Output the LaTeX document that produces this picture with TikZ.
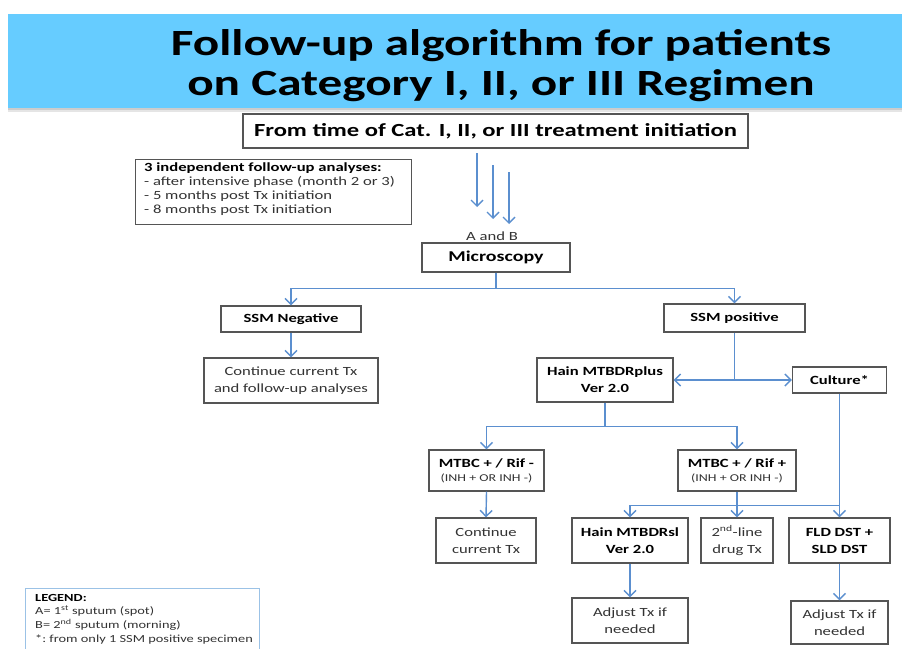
\documentclass[tikz,border=0pt]{standalone}
\usepackage{fontspec}
\setmainfont{Carlito}[FakeStretch=1.33]
\usetikzlibrary{arrows.meta,calc}
\definecolor{banner}{RGB}{102,204,255}
\definecolor{link}{RGB}{91,143,207}
\definecolor{frame}{RGB}{85,85,85}
\definecolor{ink}{RGB}{51,51,51}
\definecolor{legendline}{RGB}{155,194,230}
\tikzset{
  box/.style={draw=frame, line width=1.3pt, fill=white, inner sep=0pt, align=center,
    text=ink, font=\fontsize{12.5}{17}\selectfont},
  hd/.style={text=black, font=\fontsize{12.5}{17}\selectfont\bfseries},
  conn/.style={draw=link, line width=1.4pt},
  arr/.style={conn, -{Straight Barb[length=6pt,width=12pt,line width=1.4pt]}},
}
\begin{document}
\begin{tikzpicture}[x=1pt,y=-1pt]
\clip (0,0) rectangle (902,648);
\fill[white] (0,0) rectangle (902,648);

% title banner with soft shadow
\fill[black!10] (8,108) rectangle (902,112);
\fill[black!20] (8,108) rectangle (902,110);
\node[fill=banner, minimum width=894pt, minimum height=94pt, inner sep=0pt, anchor=north west]
  (title) at (8,14) {};
\node[align=center, font=\fontsize{37}{40}\selectfont\bfseries, text=black] (titletext) at (501,66)
  {Follow-up algorithm for patients\\on Category I, II, or III Regimen};

% start of treatment
\node[box, minimum width=505pt, minimum height=34pt, font=\fontsize{18.5}{20}\selectfont\bfseries, text=black]
  (start) at (495.5,131) {From time of Cat. I, II, or III treatment initiation};

% schedule of analyses
\node[box, minimum width=276pt, minimum height=65pt, anchor=north west] (sched) at (135,159) {};
\node[anchor=north west, align=left, inner sep=0pt, text=ink,
  font=\fontsize{12.5}{13.7}\selectfont] (schedtext) at (144,163)
  {\textbf{\color{black}3 independent follow-up analyses:}\\
   - after intensive phase (month 2 or 3)\\
   - 5 months post Tx initiation\\
   - 8 months post Tx initiation};

% three sampling arrows
\coordinate (s1) at (477,153); \coordinate (t1) at (477,207);
\coordinate (s2) at (493,165); \coordinate (t2) at (493,219);
\coordinate (s3) at (509,172); \coordinate (t3) at (509,224);
\draw[arr] (s1) -- (t1);
\draw[arr] (s2) -- (t2);
\draw[arr] (s3) -- (t3);
\node[text=ink, font=\fontsize{12.5}{14}\selectfont] (ab) at (492,236) {A and B};

% first level
\node[box, minimum width=148pt, minimum height=29pt, text=black, font=\fontsize{15}{18}\selectfont\bfseries]
  (micro) at (496,257.5) {Microscopy};
\node[box, hd, minimum width=140pt, minimum height=26pt] (ssmneg) at (291,319) {SSM Negative};
\node[box, hd, minimum width=141pt, minimum height=28pt] (ssmpos) at (734.5,318) {SSM positive};
\node[box, minimum width=174pt, minimum height=45pt] (cont1) at (291,380.5)
  {Continue current Tx\\and follow-up analyses};

% positive branch
\node[box, hd, minimum width=136pt, minimum height=44pt] (hainplus) at (605,380) {Hain MTBDRplus\\Ver 2.0};
\node[box, hd, minimum width=94pt, minimum height=26pt] (culture) at (839.5,380) {Culture*};

\node[box, minimum width=115pt, minimum height=41pt] (rifneg) at (486.5,470.5)
  {\textbf{\color{black}MTBC + / Rif -}\\[-3pt]{\fontsize{10.5}{12}\selectfont (INH + OR INH -)}};
\node[box, minimum width=118pt, minimum height=41pt] (rifpos) at (737,470.5)
  {\textbf{\color{black}MTBC + / Rif +}\\[-3pt]{\fontsize{10.5}{12}\selectfont (INH + OR INH -)}};

\node[box, minimum width=100pt, minimum height=45pt] (cont2) at (486,540.5) {Continue\\current Tx};
\node[box, hd, minimum width=116pt, minimum height=45pt] (hainsl) at (630,540.5) {Hain MTBDRsl\\Ver 2.0};
\node[box, minimum width=72pt, minimum height=45pt] (second) at (737,540.5) {2\textsuperscript{nd}-line\\drug Tx};
\node[box, hd, minimum width=101pt, minimum height=45pt] (fld) at (839.5,540.5) {FLD DST +\\SLD DST};

\node[box, minimum width=116pt, minimum height=45pt] (adj1) at (630,620.5) {Adjust Tx if\\needed};
\node[box, minimum width=97pt, minimum height=43pt] (adj2) at (839.5,622.5) {Adjust Tx if\\needed};

% legend
\node[draw=legendline, line width=1pt, anchor=north west, minimum width=234pt, minimum height=72pt,
  inner sep=0pt] (legend) at (25,588) {};
\node[anchor=north west, align=left, text=ink, inner sep=0pt,
  font=\fontsize{10.8}{13.6}\selectfont] (legendtext) at (35,594)
  {\textbf{\color{black}LEGEND:}\\
   A= 1\textsuperscript{st} sputum (spot)\\
   B= 2\textsuperscript{nd} sputum (morning)\\
   *:\ from only 1 SSM positive specimen};

% connectors
\draw[conn] (micro.south) -- ++(0,16) coordinate (j0);
\draw[arr] (j0) -| (ssmneg.north);
\draw[arr] (j0) -| (ssmpos.north);
\draw[arr] (ssmneg.south) -- (cont1.north);

\draw[conn] (ssmpos.south) -- (ssmpos.south |- hainplus.east) coordinate (j1);
\draw[arr] (j1) -- (hainplus.east);
\draw[arr] (j1) -- (culture.west);

\draw[conn] (hainplus.south) -- ++(0,24) coordinate (j2);
\draw[arr] (j2) -| (rifneg.north);
\draw[arr] (j2) -| (rifpos.north);
\draw[arr] (rifneg.south) -- (cont2.north);

\draw[conn] (rifpos.south) -- ++(0,14) coordinate (j3);
\draw[arr] (j3) -| (hainsl.north);
\draw[arr] (j3) -- (second.north);
\draw[conn] (j3) -- (j3 -| fld.north);
\draw[arr] (culture.south) -- (fld.north);

\draw[arr] (hainsl.south) -- (adj1.north);
\draw[arr] (fld.south) -- (adj2.north);
\end{tikzpicture}
\end{document}
